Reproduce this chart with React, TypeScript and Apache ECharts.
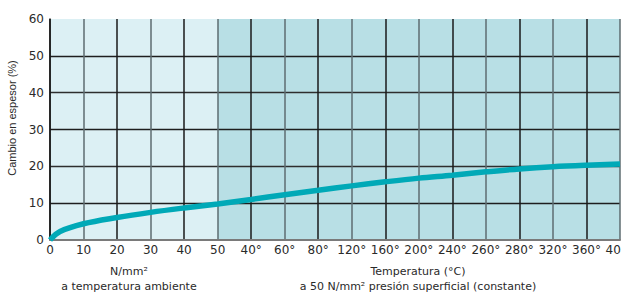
import React, { useEffect, useRef } from "react";
import * as echarts from "echarts";

const xTickLabels = ["0", "10", "20", "30", "40", "50", "40°", "60°", "80°", "120°", "160°", "200°", "240°", "260°", "280°", "320°", "360°", "400°"];
const yTicks = [0, 10, 20, 30, 40, 50, 60];
// curve: [position on x scale, change %]
const curveX = [0, 0.3, 1, 2, 3, 4, 5, 6, 7, 8, 9, 10, 11, 12, 13, 14, 15, 16, 17];
const curveY = [0, 2.3, 4.4, 6.1, 7.5, 8.7, 9.8, 11.0, 12.3, 13.5, 14.7, 15.8, 16.8, 17.6, 18.5, 19.3, 19.9, 20.3, 20.6];
const ambientRange = [0, 5];
const temperatureRange = [5, 17];
const yAxisTitle = "Cambio en espesor (%)";
const leftCaption = ["N/mm²", "a temperatura ambiente"];
const rightCaption = ["Temperatura (°C)", "a 50 N/mm² presión superficial (constante)"];

export default function App() {
  const ref = useRef<HTMLDivElement>(null);
  useEffect(() => {
    if (!ref.current) return;
    const chart = echarts.init(ref.current, null, { renderer: "svg" });
    const tickFont = { fontFamily: "DejaVu Sans", fontSize: 12, color: "#2a2a2a" };
    chart.setOption({
      animation: false,
      grid: { left: 50, right: 1, top: 19, bottom: 53, containLabel: false, outerBoundsMode: "none" },
      xAxis: {
        type: "value",
        min: 0,
        max: xTickLabels.length - 1,
        interval: 1,
        z: 3,
        axisLine: { show: true, onZero: false, lineStyle: { color: "#7a7a7a", width: 2 } },
        axisTick: { show: false },
        axisLabel: {
          ...tickFont,
          margin: 4,
          showMinLabel: true,
          showMaxLabel: true,
          hideOverlap: false,
          formatter: (v: number) => xTickLabels[Math.round(v)] ?? "",
        },
        splitLine: {
          show: true,
          lineStyle: { color: ["#1a1a1a", "#5e6d71"], width: 1.5 },
        },
      },
      yAxis: {
        type: "value",
        min: yTicks[0],
        max: yTicks[yTicks.length - 1],
        interval: 10,
        z: 3,
        axisLine: { show: true, lineStyle: { color: "#1a1a1a", width: 1.5 } },
        axisTick: { show: false },
        axisLabel: { ...tickFont, margin: 6 },
        splitLine: {
          show: true,
          lineStyle: {
            color: ["rgba(0,0,0,0)", "#1e1e1e", "#2e2e2e", "#1e1e1e", "#2e2e2e", "#1e1e1e", "rgba(0,0,0,0)"],
            width: 1.3,
          },
        },
      },
      series: [
        {
          type: "line",
          data: [],
          z: 1,
          silent: true,
          markArea: {
            silent: true,
            data: [
              [{ xAxis: ambientRange[0], itemStyle: { color: "#dcf0f4" } }, { xAxis: ambientRange[1] }],
              [{ xAxis: temperatureRange[0], itemStyle: { color: "#b8dfe5" } }, { xAxis: temperatureRange[1] }],
            ],
          },
        },
        {
          type: "line",
          z: 5,
          smooth: 0.35,
          showSymbol: false,
          silent: true,
          lineStyle: { color: "#00a9b7", width: 5.5 },
          data: curveX.map((x, i) => [x, curveY[i]]),
        },
      ],
      graphic: [
        {
          type: "text",
          x: 12,
          y: 118,
          rotation: Math.PI / 2,
          style: {
            text: yAxisTitle,
            fontFamily: "Liberation Sans",
            fontSize: 11,
            fill: "#2a2a2a",
            align: "center",
            verticalAlign: "middle",
          },
        },
        {
          type: "text",
          x: 129,
          y: 279,
          style: {
            text: leftCaption.join("\n"),
            fontFamily: "DejaVu Sans",
            fontSize: 11,
            lineHeight: 15,
            fill: "#2a2a2a",
            align: "center",
            verticalAlign: "middle",
          },
        },
        {
          type: "text",
          x: 418,
          y: 279,
          style: {
            text: rightCaption.join("\n"),
            fontFamily: "DejaVu Sans",
            fontSize: 11,
            lineHeight: 15,
            fill: "#2a2a2a",
            align: "center",
            verticalAlign: "middle",
          },
        },
      ],
    });
    return () => chart.dispose();
  }, []);
  return (
    <div
      ref={ref}
      style={{ position: "fixed", left: 0, top: 0, width: 621, height: 293, background: "#fff" }}
    />
  );
}
